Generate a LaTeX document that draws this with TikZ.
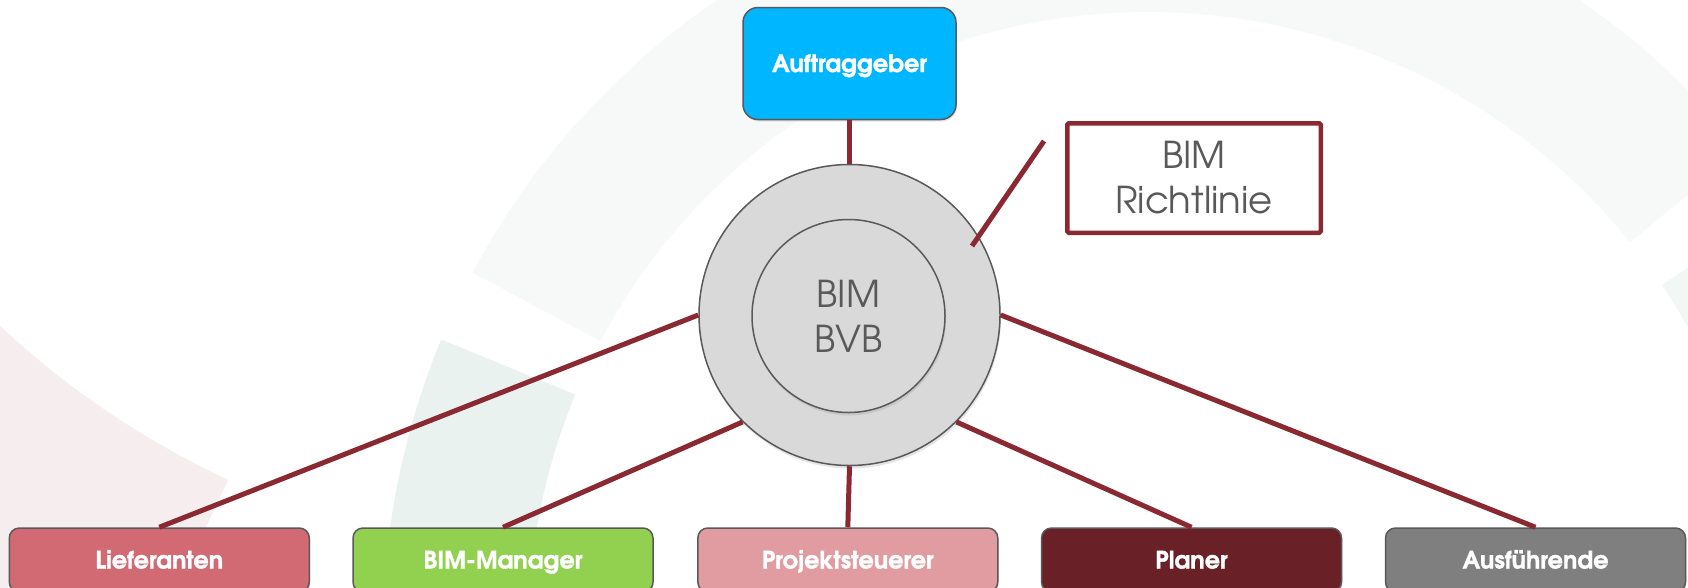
\documentclass[tikz,border=0pt]{standalone}
\usepackage{fontspec}
\newfontfamily\adv{texgyreadventor}[Extension=.otf, UprightFont=*-regular, BoldFont=*-bold, BoldFeatures={FakeBold=1.2}]
\usetikzlibrary{shadows}
\definecolor{aufblue}{RGB}{0,183,255}
\definecolor{liefc}{RGB}{209,106,114}
\definecolor{bimmc}{RGB}{146,208,80}
\definecolor{projc}{RGB}{224,156,160}
\definecolor{planc}{RGB}{105,32,38}
\definecolor{ausfc}{RGB}{127,127,127}
\definecolor{bordergray}{RGB}{89,89,89}
\definecolor{textgray}{RGB}{89,89,89}
\definecolor{circfill}{RGB}{217,217,217}
\definecolor{linered}{RGB}{139,41,50}
\definecolor{tealA}{RGB}{247,249,248}
\definecolor{tealB}{RGB}{234,242,240}
\definecolor{tealC}{RGB}{242,246,245}
\definecolor{pinkA}{RGB}{246,237,239}
\begin{document}
\begin{tikzpicture}[x=1pt,y=-1pt,
  conn/.style={draw=linered, line width=5pt},
  bbox/.style={rectangle, rounded corners=10pt, draw=bordergray, line width=1.5pt,
    minimum width=300pt, minimum height=64pt, inner sep=0pt, text=white,
    font={\adv\bfseries\fontsize{24}{28}\selectfont}, text height=17pt, text depth=0pt,
    drop shadow={shadow xshift=1pt, shadow yshift=-2pt, opacity=0.18}},
  ring/.style={circle, draw=bordergray, line width=1.5pt, fill=circfill, inner sep=0pt,
    drop shadow={shadow xshift=1pt, shadow yshift=-3pt, opacity=0.2}},
  bigtext/.style={font={\adv\fontsize{37}{45}\selectfont}, text=textgray, align=center}
]
\useasboundingbox (0,0) rectangle (1688,587);
\fill[white] (0,0) rectangle (1688,587);
% faint background watermark
\coordinate (tc) at (1148,632);
\coordinate (pc) at (599,-316);
\draw[line width=145pt, tealA] ([shift={(-39:692.5)}]tc) arc[start angle=-39, end angle=-152, radius=692.5];
\draw[line width=145pt, tealB] ([shift={(-157.5:692.5)}]tc) arc[start angle=-157.5, end angle=-200, radius=692.5];
\draw[line width=145pt, tealC] ([shift={(-34:692.5)}]tc) arc[start angle=-34, end angle=30, radius=692.5];
\draw[line width=272pt, pinkA] ([shift={(-195:1014)}]pc) arc[start angle=-195, end angle=-245, radius=1014];
% nodes
\node[bbox, fill=aufblue, minimum width=213pt, minimum height=112pt, rounded corners=15pt] (auf) at (849.5,63.5) {Auftraggeber};
\node[ring, minimum size=301pt] (outer) at (849.5,315) {};
\node[ring, minimum size=193pt, bigtext] (inner) at (848.5,316) {BIM\\BVB};
\node[draw=linered, line width=4.5pt, fill=white, minimum width=253.5pt, minimum height=109.5pt,
  rounded corners=1.5pt, bigtext] (rl) at (1194,178) {BIM\\Richtlinie};
\node[bbox, fill=liefc] (lief) at (159.3,560) {Lieferanten};
\node[bbox, fill=bimmc] (bimm) at (503,560) {BIM-Manager};
\node[bbox, fill=projc] (proj) at (847.8,560) {Projektsteuerer};
\node[bbox, fill=planc] (plan) at (1191.5,560) {Planer};
\node[bbox, fill=ausfc] (ausf) at (1535.5,560) {Ausführende};
% connectors
\draw[conn] (auf.south) -- (outer.north);
\draw[conn] (outer.west) -- (lief.north);
\draw[conn] (outer.south west) -- (bimm.north);
\draw[conn] (outer.south) -- (proj.north);
\draw[conn] (outer.south east) -- (plan.north);
\draw[conn] (outer.east) -- (ausf.north);
\coordinate (rla) at (972,246);
\coordinate (rlb) at (1044,141);
\draw[conn] (rla) -- (rlb);
\end{tikzpicture}
\end{document}
